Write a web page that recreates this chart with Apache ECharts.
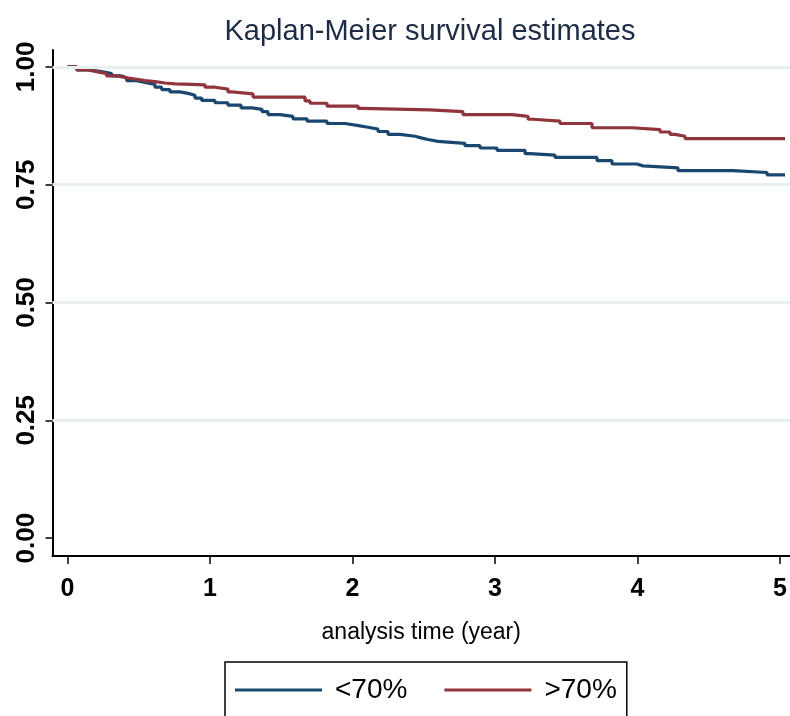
<!DOCTYPE html>
<html>
<head>
<meta charset="utf-8">
<script src="https://cdn.jsdelivr.net/npm/echarts@6/dist/echarts.min.js"></script>
<style>html,body{margin:0;padding:0;background:#fff;}#c{width:790px;height:716px;}</style>
</head>
<body>
<div id="c"></div>
<script>
// Kaplan-Meier step data (time in years, survival probability)
const lowTime = [0, 0.065, 0.144, 0.240, 0.310, 0.380, 0.415, 0.486, 0.544, 0.614, 0.661, 0.719, 0.789, 0.846, 0.895, 0.942, 1.035, 1.126, 1.218, 1.295, 1.365, 1.407, 1.491, 1.582, 1.681, 1.821, 1.947, 2.032, 2.109, 2.179, 2.249, 2.333, 2.439, 2.488, 2.530, 2.600, 2.789, 2.895, 3.014, 3.211, 3.246, 3.421, 3.716, 3.821, 3.996, 4.039, 4.284, 4.670, 4.909, 5.035];
const lowSurv = [1.000, 0.994, 0.990, 0.986, 0.981, 0.977, 0.971, 0.967, 0.963, 0.957, 0.952, 0.947, 0.944, 0.940, 0.934, 0.929, 0.924, 0.919, 0.913, 0.910, 0.905, 0.899, 0.895, 0.890, 0.885, 0.880, 0.876, 0.872, 0.868, 0.863, 0.857, 0.853, 0.849, 0.846, 0.842, 0.838, 0.833, 0.828, 0.823, 0.816, 0.813, 0.808, 0.801, 0.794, 0.790, 0.786, 0.780, 0.776, 0.771, 0.771];
const highTime = [0, 0.065, 0.135, 0.205, 0.275, 0.345, 0.415, 0.486, 0.544, 0.614, 0.684, 0.754, 0.874, 0.965, 1.035, 1.126, 1.154, 1.302, 1.667, 1.702, 1.821, 2.039, 2.067, 2.544, 2.775, 3.119, 3.232, 3.267, 3.456, 3.681, 3.961, 4.158, 4.228, 4.263, 4.333, 5.035];
const highSurv = [1.000, 0.994, 0.990, 0.986, 0.981, 0.977, 0.974, 0.971, 0.969, 0.966, 0.964, 0.963, 0.962, 0.957, 0.953, 0.947, 0.943, 0.936, 0.928, 0.923, 0.917, 0.912, 0.909, 0.905, 0.899, 0.895, 0.889, 0.885, 0.880, 0.871, 0.867, 0.862, 0.857, 0.853, 0.848, 0.848];
const seriesNames = ['<70%', '>70%'];
const xTicks = [0, 1, 2, 3, 4, 5];
const yTicks = [0, 0.25, 0.5, 0.75, 1.0];
const gridValues = [0.25, 0.5, 0.75, 1.0];

const FONT = "'Liberation Sans', Arial, sans-serif";
const pairs = (t, s) => t.map((v, i) => [v, s[i]]);

const chart = echarts.init(document.getElementById('c'), null, {renderer: 'canvas'});
chart.setOption({
  animation: false,
  backgroundColor: '#ffffff',
  title: {
    text: 'Kaplan-Meier survival estimates',
    left: 425, top: 12, textAlign: 'center',
    textStyle: {fontFamily: FONT, fontSize: 29, fontWeight: 'normal', color: '#1e2b45'}
  },
  legend: {
    data: seriesNames,
    left: 225, top: 662,
    orient: 'horizontal',
    icon: 'rect',
    itemWidth: 87, itemHeight: 3,
    itemGap: 37,
    padding: [14, 10, 40, 10],
    borderColor: '#000', borderWidth: 1.5,
    textStyle: {fontFamily: FONT, fontSize: 28, color: '#000', padding: [0, 0, 0, 8]}
  },
  grid: {left: 52.5, right: 0, top: 50, bottom: 160, containLabel: false},
  xAxis: {
    type: 'value',
    min: -0.105, max: 5.07,
    name: 'analysis time (year)',
    nameLocation: 'middle', nameGap: 65,
    nameTextStyle: {fontFamily: FONT, fontSize: 23, color: '#000'},
    axisLine: {show: true, onZero: false, lineStyle: {color: '#000', width: 2}},
    axisTick: {show: true, customValues: xTicks, length: 8, lineStyle: {color: '#000', width: 1.5}},
    axisLabel: {customValues: xTicks, fontFamily: FONT, fontSize: 25, fontWeight: 'bold', color: '#000', margin: 21,
      formatter: v => String(v)},
    splitLine: {show: false}
  },
  yAxis: {
    type: 'value',
    min: -0.038, max: 1.036,
    axisLine: {show: true, onZero: false, lineStyle: {color: '#000', width: 2}},
    axisTick: {show: true, customValues: yTicks, length: 7, lineStyle: {color: '#000', width: 1.5}},
    axisLabel: {customValues: yTicks, rotate: 90, fontFamily: FONT, fontSize: 26, fontWeight: 'bold', color: '#000', margin: 13,
      formatter: v => v.toFixed(2)},
    splitLine: {show: false}
  },
  series: [
    {
      name: 'grid', type: 'line', data: [], z: 1, silent: true,
      markLine: {
        silent: true, symbol: 'none', animation: false,
        label: {show: false},
        lineStyle: {color: '#e8efef', width: 3, type: 'solid'},
        emphasis: {disabled: true},
        data: gridValues.map(v => ({yAxis: v}))
      }
    },
    {
      name: seriesNames[0], type: 'line', step: 'end', showSymbol: false, z: 2,
      data: pairs(lowTime, lowSurv),
      lineStyle: {color: '#1a476f', width: 3.2},
      itemStyle: {color: '#1a476f'}
    },
    {
      name: seriesNames[1], type: 'line', step: 'end', showSymbol: false, z: 3,
      data: pairs(highTime, highSurv),
      lineStyle: {color: '#90353b', width: 3.2},
      itemStyle: {color: '#90353b'}
    }
  ]
});
</script>
</body>
</html>
